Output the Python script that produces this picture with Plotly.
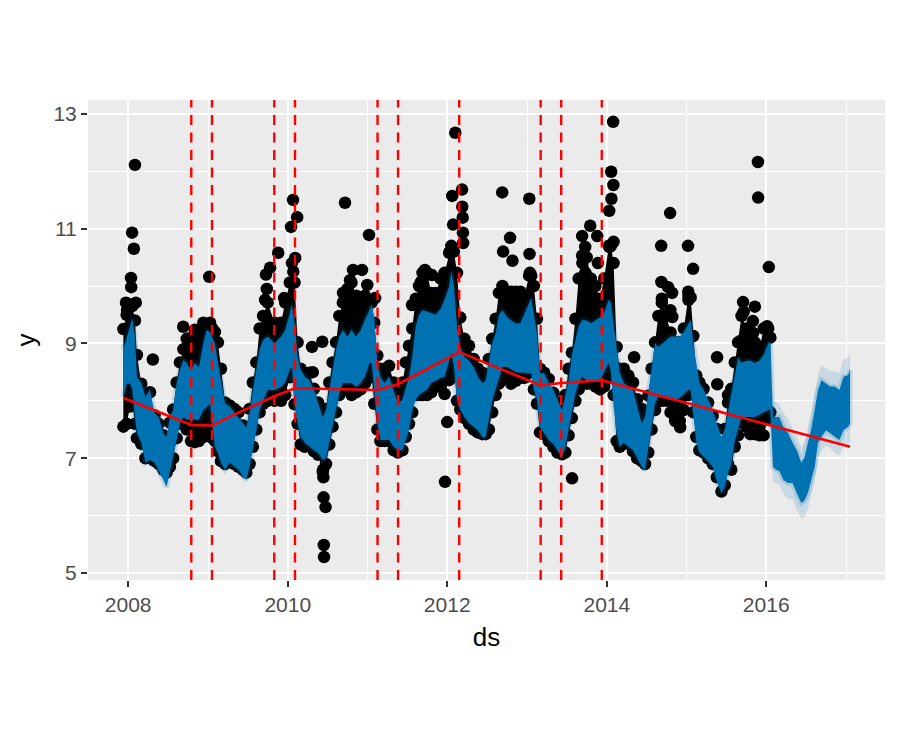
import plotly.graph_objects as go

# ---------------- data ----------------
grid_dates = [
    # 2007-12 .. 2008-12
    '2007-12-10', '2007-12-25', '2008-01-10', '2008-01-20', '2008-02-01', '2008-02-10',
    '2008-03-01', '2008-03-20', '2008-04-10', '2008-05-01', '2008-05-20', '2008-06-10',
    '2008-06-25', '2008-07-10', '2008-07-25', '2008-08-10', '2008-08-25', '2008-09-10',
    '2008-09-25', '2008-10-15', '2008-11-01', '2008-11-20', '2008-12-10', '2008-12-25',
    # 2009
    '2009-01-10', '2009-01-20', '2009-02-01', '2009-02-15', '2009-03-01', '2009-03-20',
    '2009-04-10', '2009-05-01', '2009-05-20', '2009-06-10', '2009-06-25', '2009-07-10',
    '2009-07-25', '2009-08-10', '2009-08-25', '2009-09-10', '2009-10-01', '2009-11-01',
    '2009-12-01', '2009-12-20',
    # 2010
    '2010-01-10', '2010-01-20', '2010-02-01', '2010-02-15', '2010-03-01', '2010-03-20',
    '2010-04-10', '2010-05-01', '2010-05-20', '2010-06-10', '2010-06-25', '2010-07-10',
    '2010-07-25', '2010-08-10', '2010-08-25', '2010-09-10', '2010-10-01', '2010-10-20',
    '2010-11-10', '2010-12-01', '2010-12-20',
    # 2011
    '2011-01-10', '2011-01-20', '2011-02-01', '2011-02-15', '2011-03-01', '2011-03-20',
    '2011-04-10', '2011-05-01', '2011-05-20', '2011-06-10', '2011-06-25', '2011-07-10',
    '2011-07-25', '2011-08-10', '2011-08-25', '2011-09-10', '2011-10-01', '2011-10-20',
    '2011-11-10', '2011-12-01', '2011-12-20',
    # 2012
    '2012-01-10', '2012-01-20', '2012-02-01', '2012-02-15', '2012-03-01', '2012-03-20',
    '2012-04-10', '2012-05-01', '2012-05-20', '2012-06-10', '2012-06-25', '2012-07-10',
    '2012-07-25', '2012-08-10', '2012-08-25', '2012-09-10', '2012-10-01', '2012-10-20',
    '2012-11-10', '2012-12-01', '2012-12-20',
    # 2013
    '2013-01-10', '2013-01-20', '2013-02-01', '2013-02-15', '2013-03-01', '2013-03-20',
    '2013-04-10', '2013-05-01', '2013-05-20', '2013-06-10', '2013-06-25', '2013-07-10',
    '2013-07-25', '2013-08-10', '2013-08-25', '2013-09-10', '2013-10-01', '2013-10-20',
    '2013-11-10', '2013-12-01', '2013-12-20',
    # 2014
    '2014-01-10', '2014-01-20', '2014-02-01', '2014-02-15', '2014-03-01', '2014-03-20',
    '2014-04-10', '2014-05-01', '2014-05-20', '2014-06-10', '2014-06-25', '2014-07-10',
    '2014-07-25', '2014-08-10', '2014-08-25', '2014-09-10', '2014-10-01', '2014-10-20',
    '2014-11-10', '2014-12-01', '2014-12-20',
    # 2015 .. 2016-01 (end of history)
    '2015-01-10', '2015-01-20', '2015-02-01', '2015-02-15', '2015-03-01', '2015-03-20',
    '2015-04-10', '2015-05-01', '2015-05-20', '2015-06-10', '2015-06-25', '2015-07-10',
    '2015-07-25', '2015-08-10', '2015-08-25', '2015-09-10', '2015-10-01', '2015-10-20',
    '2015-11-10', '2015-12-01', '2015-12-20', '2016-01-10', '2016-01-20',
    # forecast only
    '2016-02-01', '2016-02-15', '2016-03-01', '2016-03-20', '2016-04-10', '2016-05-01',
    '2016-05-20', '2016-06-10', '2016-06-25', '2016-07-10', '2016-07-25', '2016-08-10',
    '2016-08-25', '2016-09-10', '2016-10-01', '2016-10-20', '2016-11-10', '2016-12-01',
    '2016-12-20', '2017-01-10', '2017-01-19',
]

# envelope of the forecast line yhat (dense weekly zig-zag)
yhat_low = [
    8.07, 8.30, 8.30, 8.20, 7.72, 7.44, 7.27, 6.92, 6.97, 6.92, 6.80, 6.62,
    6.50, 6.74, 7.02, 7.32, 7.61, 7.72, 7.67, 7.67, 7.67, 7.67, 7.84, 7.89,
    7.95, 7.60, 7.20, 7.09, 6.92, 6.80, 6.92, 6.85, 6.80, 6.68, 6.62, 6.85,
    7.14, 7.49, 7.84, 8.02, 8.19, 8.19, 8.24, 8.31,
    8.54, 8.59, 7.96, 7.61, 7.37, 7.27, 7.20, 7.14, 7.09, 6.97, 7.00, 7.32,
    7.61, 7.84, 8.13, 8.31, 8.31, 8.31, 8.24, 8.31, 8.42,
    8.66, 8.66, 8.19, 7.61, 7.32, 7.32, 7.32, 7.20, 7.14, 7.14, 7.32, 7.49,
    7.84, 8.02, 8.10, 8.13, 8.20, 8.31, 8.35, 8.40, 8.42,
    8.70, 8.83, 8.59, 8.02, 7.84, 7.72, 7.61, 7.55, 7.49, 7.37, 7.37, 7.67,
    8.00, 8.19, 8.40, 8.59, 8.59, 8.55, 8.50, 8.48, 8.48,
    8.48, 8.48, 8.20, 8.02, 7.54, 7.44, 7.32, 7.25, 7.14, 7.02, 7.20, 7.44,
    7.80, 8.13, 8.30, 8.42, 8.36, 8.36, 8.36, 8.36, 8.50,
    8.66, 8.50, 7.90, 7.44, 7.20, 7.27, 7.20, 7.14, 7.02, 6.85, 6.80, 7.20,
    7.60, 7.96, 8.07, 8.07, 8.05, 8.02, 8.02, 8.05, 8.10,
    8.19, 8.19, 7.70, 7.27, 7.10, 7.02, 6.95, 6.85, 6.60, 6.39, 6.50, 6.74,
    6.90, 7.30, 7.50, 7.72, 7.72, 7.72, 7.72, 7.75, 7.80, 7.84, 7.84,
    6.85, 6.80, 6.78, 6.62, 6.57, 6.57, 6.39, 6.22, 6.27, 6.40, 6.62, 6.85,
    7.27, 7.37, 7.49, 7.44, 7.37, 7.32, 7.49, 7.55, 7.60,
]
yhat_high = [
    8.90, 9.10, 9.29, 9.44, 9.10, 8.42, 8.31, 8.07, 8.19, 7.79, 7.72, 7.44,
    7.37, 7.72, 7.84, 8.31, 8.54, 8.71, 8.66, 8.54, 8.66, 8.59, 9.00, 9.23,
    9.20, 9.10, 9.00, 8.66, 8.36, 7.96, 7.90, 7.79, 7.72, 7.61, 7.54, 7.79,
    8.19, 8.54, 8.89, 9.06, 9.12, 9.00, 9.12, 9.23,
    9.58, 9.67, 9.36, 8.77, 8.54, 8.42, 8.36, 8.19, 7.96, 7.72, 7.84, 8.19,
    8.54, 8.89, 9.12, 9.23, 9.12, 9.23, 9.12, 9.23, 9.41,
    9.58, 9.67, 9.46, 8.66, 8.42, 8.31, 8.42, 8.19, 7.96, 8.02, 8.19, 8.42,
    8.77, 9.30, 9.50, 9.58, 9.55, 9.53, 9.50, 9.60, 9.76,
    10.00, 10.25, 10.00, 9.30, 8.94, 8.77, 8.70, 8.59, 8.42, 8.31, 8.35, 8.66,
    9.00, 9.18, 9.50, 9.58, 9.46, 9.40, 9.35, 9.35, 9.53,
    9.70, 9.79, 9.50, 9.18, 8.48, 8.48, 8.31, 8.20, 8.02, 7.84, 8.10, 8.36,
    8.80, 9.06, 9.30, 9.41, 9.40, 9.35, 9.40, 9.45, 9.55,
    9.76, 9.70, 9.30, 8.89, 8.50, 8.31, 8.25, 8.19, 7.90, 7.61, 7.72, 8.10,
    8.50, 9.00, 8.94, 9.00, 9.05, 9.12, 9.12, 9.12, 9.20,
    9.35, 9.41, 9.00, 8.66, 8.31, 8.20, 8.00, 7.84, 7.60, 7.37, 7.50, 7.79,
    8.10, 8.50, 8.75, 8.66, 8.70, 8.70, 8.66, 8.70, 8.80, 9.00, 9.03,
    7.72, 7.72, 7.72, 7.54, 7.44, 7.27, 7.14, 6.92, 7.02, 7.27, 7.50, 7.84,
    8.19, 8.36, 8.31, 8.25, 8.25, 8.19, 8.42, 8.45, 8.54,
]

# dense band of observed points (history only: first 172 grid dates)
y_dense_low = [
    7.55, 7.60, 7.90, 7.95, 7.60, 7.35, 7.25, 7.00, 7.00, 6.95, 6.90, 6.80,
    6.75, 6.85, 7.00, 7.35, 7.60, 7.64, 7.50, 7.30, 7.28, 7.30, 7.37, 7.45,
    7.55, 7.35, 7.30, 7.12, 6.95, 6.90, 6.95, 6.90, 6.85, 6.80, 6.75, 6.90,
    7.20, 7.50, 7.80, 7.95, 8.00, 8.00, 8.00, 8.10,
    8.41, 8.50, 7.94, 7.60, 7.24, 7.20, 7.24, 7.12, 7.06, 6.77, 6.90, 7.24,
    7.55, 7.80, 8.10, 8.20, 8.20, 8.10, 8.15, 8.20, 8.30,
    8.41, 8.41, 7.95, 7.50, 7.30, 7.30, 7.30, 7.14, 7.10, 7.14, 7.37, 7.60,
    7.80, 8.10, 8.10, 8.10, 8.10, 8.15, 8.25, 8.25, 8.12,
    8.36, 8.50, 8.60, 8.00, 7.85, 7.70, 7.60, 7.50, 7.45, 7.42, 7.42, 7.50,
    7.80, 8.10, 8.30, 8.40, 8.40, 8.30, 8.35, 8.40, 8.40,
    8.50, 8.50, 8.20, 7.95, 7.45, 7.42, 7.30, 7.20, 7.10, 7.07, 7.10, 7.40,
    7.70, 8.00, 8.20, 8.30, 8.30, 8.30, 8.25, 8.20, 8.25,
    8.40, 8.40, 8.10, 7.30, 7.20, 7.25, 7.25, 7.12, 7.00, 6.95, 6.90, 7.10,
    7.50, 7.84, 8.00, 8.00, 8.00, 7.80, 7.65, 7.65, 7.84,
    8.10, 8.20, 7.80, 7.37, 7.14, 7.10, 7.00, 6.90, 6.67, 6.42, 6.53, 6.90,
    6.80, 7.20, 7.40, 7.64, 7.55, 7.42, 7.42, 7.40, 7.40, 7.70, 7.80,
]
y_dense_high = [
    9.25, 9.50, 9.65, 9.65, 9.40, 8.80, 8.30, 8.10, 8.15, 7.75, 7.60, 7.40,
    7.35, 7.62, 7.85, 8.32, 8.67, 8.90, 9.08, 9.10, 9.24, 9.24, 9.36, 9.30,
    9.36, 9.26, 9.20, 9.02, 8.56, 7.97, 7.92, 7.86, 7.80, 7.57, 7.52, 7.86,
    8.32, 8.67, 9.26, 9.48, 9.71, 9.36, 9.36, 9.71,
    10.06, 10.40, 10.06, 9.02, 8.56, 8.44, 8.49, 8.21, 7.97, 7.74, 7.86, 8.32,
    8.67, 9.02, 9.48, 9.71, 9.95, 10.06, 9.83, 9.71, 9.83,
    9.71, 9.71, 9.36, 8.79, 8.56, 8.56, 8.61, 8.32, 8.21, 8.32, 8.67, 8.96,
    9.26, 9.78, 10.00, 10.23, 10.23, 9.88, 9.88, 10.13, 10.23,
    10.58, 10.70, 10.60, 10.23, 9.45, 9.08, 8.96, 8.73, 8.56, 8.49, 8.38, 8.73,
    9.08, 9.43, 9.88, 10.00, 9.88, 9.90, 9.90, 9.90, 9.83,
    10.18, 10.18, 10.00, 9.43, 8.56, 8.49, 8.38, 8.14, 7.97, 7.92, 8.10, 8.56,
    8.84, 9.43, 10.13, 10.53, 10.50, 10.13, 10.00, 9.78, 10.13,
    10.70, 10.70, 10.40, 8.94, 8.56, 8.56, 8.44, 8.32, 8.03, 7.86, 7.74, 8.09,
    8.56, 9.02, 9.48, 9.78, 9.48, 9.19, 9.02, 9.02, 9.26,
    9.83, 9.80, 9.13, 8.44, 8.32, 8.21, 7.97, 7.74, 7.51, 7.27, 7.51, 7.97,
    8.21, 8.67, 9.02, 9.48, 9.26, 9.02, 9.02, 8.90, 9.26, 9.26, 9.10,
]

# isolated observations away from the dense band
y_sparse_dates = [
    '2007-12-22', '2007-12-27', '2008-01-14', '2008-01-15', '2008-01-19', '2008-01-27',
    '2008-02-01', '2008-02-05', '2008-04-23', '2008-09-09', '2008-11-25', '2008-12-18',
    '2009-01-06', '2009-01-22',
    '2009-09-19', '2009-09-23', '2009-09-27', '2009-10-12', '2009-11-18', '2009-12-15',
    '2010-01-16', '2010-01-25', '2010-01-26', '2010-02-04', '2010-02-13',
    '2010-04-22', '2010-04-25', '2010-06-08', '2010-06-12', '2010-06-13', '2010-06-14',
    '2010-06-23', '2010-06-15', '2010-06-16',
    '2010-09-11', '2010-09-20', '2010-10-13', '2010-10-27', '2010-10-28', '2010-12-07',
    '2010-12-10', '2010-12-31', '2011-01-08', '2011-02-05',
    '2011-07-24', '2011-09-03', '2011-09-21', '2011-10-23', '2011-12-22', '2012-01-01',
    '2012-01-15', '2012-01-24', '2012-01-28', '2012-02-07', '2012-03-09', '2012-03-10',
    '2012-03-12', '2012-03-13', '2012-03-14',
    '2012-09-09', '2012-09-13', '2012-10-15', '2012-10-26', '2013-01-11', '2013-01-12',
    '2013-01-14',
    '2013-07-26', '2013-09-10', '2013-09-11', '2013-09-24', '2013-09-25', '2013-10-17',
    '2013-11-18', '2013-11-21', '2014-01-12', '2014-01-13', '2014-01-21', '2014-01-22',
    '2014-01-30', '2014-01-31', '2014-02-01',
    '2014-05-06', '2014-09-07', '2014-09-08', '2014-09-10', '2014-10-09', '2014-10-18',
    '2014-10-19', '2014-10-27', '2014-10-28', '2014-11-10', '2014-12-03', '2015-01-08',
    '2015-01-09', '2015-01-10', '2015-01-31', '2015-05-21', '2015-05-22', '2015-07-10',
    '2015-09-12', '2015-09-17', '2015-09-20', '2015-11-01', '2015-11-02', '2015-11-10',
    '2015-11-24', '2015-11-25', '2016-01-05', '2016-01-13',
]
y_sparse = [
    9.71, 9.58, 10.14, 9.98, 10.93, 10.65,
    12.11, 9.71, 8.72, 9.29, 9.18, 9.24,
    10.16, 9.18,
    9.76, 10.20, 9.95, 10.32, 10.58, 9.79,
    11.03, 11.50, 10.25, 10.49, 11.20,
    8.94, 8.50, 9.03, 6.80, 6.67, 6.32,
    6.15, 5.49, 5.28,
    9.88, 11.45, 10.10, 10.28, 9.81, 10.28,
    9.81, 10.02, 10.89, 9.79,
    9.67, 10.07, 10.28, 10.19, 6.59, 7.63,
    10.58, 11.57, 11.07, 12.67, 11.68, 11.38,
    11.19, 10.93, 10.75,
    11.63, 10.60, 10.84, 10.44, 11.52, 10.56,
    10.23,
    6.65, 10.87, 10.40, 10.68, 10.23, 11.05,
    10.87, 10.40, 11.31, 10.68, 11.99, 11.52,
    12.86, 11.76, 10.77,
    8.76, 10.70, 10.07, 9.71, 9.98, 11.27,
    9.58, 9.88, 9.46, 7.72, 7.54, 10.70,
    9.90, 9.76, 10.30, 8.76, 8.29, 8.10,
    9.06, 9.72, 9.55, 9.39, 9.18, 9.64,
    12.16, 11.54, 9.30, 10.33,
]

# uncertainty interval over the future part
future_dates = [
    '2016-01-20', '2016-02-01', '2016-02-15', '2016-03-01', '2016-03-20', '2016-04-10',
    '2016-05-01', '2016-05-20', '2016-06-10', '2016-06-25', '2016-07-10', '2016-07-25',
    '2016-08-10', '2016-08-25', '2016-09-10', '2016-10-01', '2016-10-20', '2016-11-10',
    '2016-12-01', '2016-12-20', '2017-01-10', '2017-01-19',
]
yhat_lower = [
    7.70, 6.60, 6.55, 6.55, 6.38, 6.30, 6.28, 6.10, 5.95, 5.98, 6.12, 6.35,
    6.60, 7.02, 7.12, 7.22, 7.18, 7.10, 7.05, 7.20, 7.25, 7.28,
]
yhat_upper = [
    9.20, 7.97, 7.97, 7.95, 7.78, 7.68, 7.52, 7.40, 7.18, 7.30, 7.55, 7.78,
    8.12, 8.45, 8.62, 8.57, 8.52, 8.52, 8.48, 8.72, 8.75, 8.85,
]

# piecewise-linear trend and its significant changepoints
trend_dates = ['2007-12-10', '2008-10-16', '2009-01-19', '2009-05-01', '2009-10-31',
               '2010-02-03', '2011-02-16', '2011-05-21', '2012-02-25', '2013-03-04',
               '2013-06-06', '2013-12-09', '2017-01-19']
trend = [8.05, 7.58, 7.57, 7.76, 8.08, 8.22, 8.19, 8.29, 8.85, 8.27, 8.31, 8.36, 7.20]
changepoints = ['2008-10-16', '2009-01-19', '2009-10-31', '2010-02-03', '2011-02-16',
                '2011-05-21', '2012-02-25', '2013-03-04', '2013-06-06', '2013-12-09']

x_ticks = ['2008-01-01', '2010-01-01', '2012-01-01', '2014-01-01', '2016-01-01']
x_tick_text = ['2008', '2010', '2012', '2014', '2016']
y_ticks = [5, 7, 9, 11, 13]

# ---------------- figure ----------------
BLUE = '#0072B2'
n_hist = len(y_dense_low)
hist_dates = grid_dates[:n_hist]

fig = go.Figure()

# dense observed band (points)
fig.add_trace(go.Scatter(
    x=hist_dates + hist_dates[::-1], y=y_dense_high + y_dense_low[::-1],
    mode='lines', fill='toself', fillcolor='black', line=dict(width=0, color='black'),
    hoverinfo='skip', showlegend=False))
fig.add_trace(go.Scatter(
    x=hist_dates + hist_dates + y_sparse_dates,
    y=y_dense_high + y_dense_low + y_sparse,
    mode='markers', marker=dict(color='black', size=12.5, line=dict(width=0)),
    showlegend=False))

# forecast line envelope (dark blue)
fig.add_trace(go.Scatter(
    x=grid_dates + grid_dates[::-1], y=yhat_high + yhat_low[::-1],
    mode='lines', fill='toself', fillcolor=BLUE,
    line=dict(width=5, color='rgba(0,114,178,0.18)'),
    hoverinfo='skip', showlegend=False))

# uncertainty ribbon on the future part
fig.add_trace(go.Scatter(
    x=future_dates + future_dates[::-1], y=yhat_upper + yhat_lower[::-1],
    mode='lines', fill='toself', fillcolor='rgba(0,114,178,0.15)', line=dict(width=0),
    hoverinfo='skip', showlegend=False))

# trend
fig.add_trace(go.Scatter(
    x=trend_dates, y=trend, mode='lines', line=dict(color='red', width=2.6),
    showlegend=False))

for cp in changepoints:
    fig.add_vline(x=cp, line=dict(color='red', width=2.4, dash='10px,7.5px'))

axis_common = dict(
    showline=False, zeroline=False, showgrid=True, gridcolor='white', gridwidth=2,
    ticks='outside', ticklen=6, tickwidth=2, tickcolor='#333333',
    tickfont=dict(family='Liberation Sans', size=21, color='#4D4D4D'),
)

fig.update_layout(
    width=900, height=750,
    margin=dict(l=80, r=23, t=92, b=178),
    paper_bgcolor='white', plot_bgcolor='#EBEBEB',
    font=dict(family='Liberation Sans'),
    xaxis=dict(
        type='date', range=['2007-07-01', '2017-06-28'],
        tickvals=x_ticks, ticktext=x_tick_text,
        minor=dict(dtick='M12', tick0='2008-01-01', showgrid=True, gridcolor='white', gridwidth=1),
        title=dict(text='ds', font=dict(family='Liberation Sans', size=26, color='black'), standoff=12),
        **axis_common),
    yaxis=dict(
        range=[4.88, 13.24], tickvals=y_ticks,
        minor=dict(dtick=1, tick0=5, showgrid=True, gridcolor='white', gridwidth=1),
        title=dict(text='y', font=dict(family='Liberation Sans', size=26, color='black'), standoff=10),
        **axis_common),
)

fig.write_html('out.html')
